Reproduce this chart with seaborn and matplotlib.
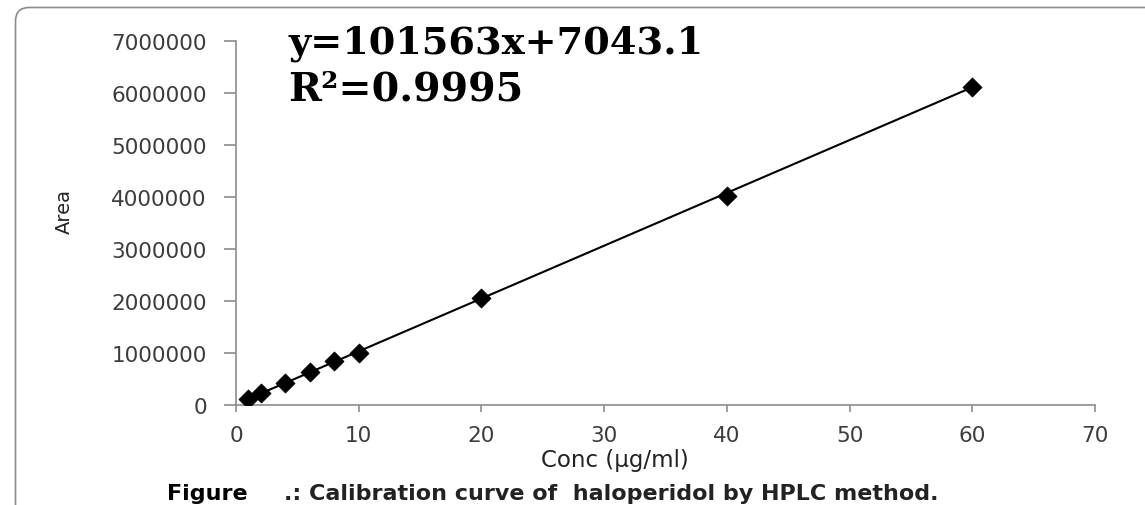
import numpy as np
import pandas as pd
import seaborn as sns
import matplotlib.pyplot as plt
from matplotlib.patches import FancyBboxPatch

# Calibration standards: concentration (µg/ml) and HPLC peak area
conc = [1, 2, 4, 6, 8, 10, 20, 40, 60]
area = [110000, 225000, 420000, 620000, 830000, 1000000, 2040000, 4010000, 6110000]

# Linear regression of the calibration curve
slope = 101563
intercept = 7043.1
r_squared = 0.9995

x_ticks = [0, 10, 20, 30, 40, 50, 60, 70]
y_ticks = [0, 1000000, 2000000, 3000000, 4000000, 5000000, 6000000, 7000000]

x_label = "Conc (µg/ml)"
y_label = "Area"
caption_head = "Figure"
caption_body = ".: Calibration curve of  haloperidol by HPLC method."

sns.set_theme(style="white")
plt.rcParams["font.family"] = ["DejaVu Sans"]

fig = plt.figure(figsize=(11.45, 5.06), dpi=100)
fig.patch.set_facecolor("white")

# Chart frame (rounded border running off the right and bottom edges)
frame = FancyBboxPatch((15.5 / 1145, -0.2), 1.2, 1.2 - 8.5 / 506,
                       boxstyle="round,pad=0,rounding_size=0.012",
                       mutation_aspect=1145 / 506,
                       transform=fig.transFigure, facecolor="none",
                       edgecolor="#8c8c8c", linewidth=1.2, zorder=0)
fig.patches.append(frame)

ax = fig.add_axes([236 / 1145, 1 - 405.5 / 506, (1095 - 236) / 1145, (405.5 - 41.5) / 506])
ax.set_facecolor("none")

df = pd.DataFrame({"Conc": conc, "Area": area})

# Trendline over the range of the standards
fit_x = np.array([min(conc), max(conc)], dtype=float)
fit_y = slope * fit_x + intercept
sns.lineplot(x=fit_x, y=fit_y, color="black", linewidth=1.5, ax=ax, zorder=2)
sns.scatterplot(data=df, x="Conc", y="Area", marker="D", s=95, color="black",
                edgecolor="black", linewidth=0.5, ax=ax, zorder=3)

ax.set_xlim(0, 70)
ax.set_ylim(0, 7000000)
ax.set_xticks(x_ticks)
ax.set_yticks(y_ticks)
ax.set_xticklabels([str(v) for v in x_ticks])
ax.set_yticklabels([str(v) for v in y_ticks])

for side in ("top", "right"):
    ax.spines[side].set_visible(False)
for side in ("left", "bottom"):
    ax.spines[side].set_color("#8c8c8c")
    ax.spines[side].set_linewidth(1.2)

ax.tick_params(axis="y", direction="out", length=9, width=1.2, color="#8c8c8c",
               labelsize=15.5, labelcolor="#3c3c3c", pad=12, left=True)
ax.tick_params(axis="x", direction="out", length=5, width=1.2, color="#8c8c8c",
               labelsize=15.5, labelcolor="#3c3c3c", pad=10, bottom=True)

ax.set_xlabel(x_label, fontsize=16.5, color="#222222")
ax.set_ylabel(y_label, fontsize=14, color="#222222")
ax.xaxis.set_label_coords((615 - 236) / (1095 - 236), -(461 - 405.5) / 364, transform=ax.transAxes)
ax.yaxis.set_label_coords(-(236 - 64) / (1095 - 236), (405.5 - 211) / 364, transform=ax.transAxes)
ax.xaxis.label.set_va("center")
ax.yaxis.label.set_va("center")

# Regression equation and coefficient of determination
fig.text(288 / 1145, 1 - 53 / 506, f"y={slope}x+{intercept}",
         family="DejaVu Serif", fontweight="bold", fontsize=27.5, color="black",
         ha="left", va="baseline")
fig.text(288 / 1145, 1 - 101 / 506, f"R²={r_squared}",
         family="DejaVu Serif", fontweight="bold", fontsize=28.5, color="black",
         ha="left", va="baseline")

# Caption
fig.text(167 / 1145, 1 - 500 / 506, caption_head, fontweight="bold", fontsize=16,
         color="black", ha="left", va="baseline")
fig.text(284 / 1145, 1 - 500 / 506, caption_body, fontweight="bold", fontsize=16,
         color="#222222", ha="left", va="baseline")

fig.savefig("out.png", dpi=100, facecolor="white")
